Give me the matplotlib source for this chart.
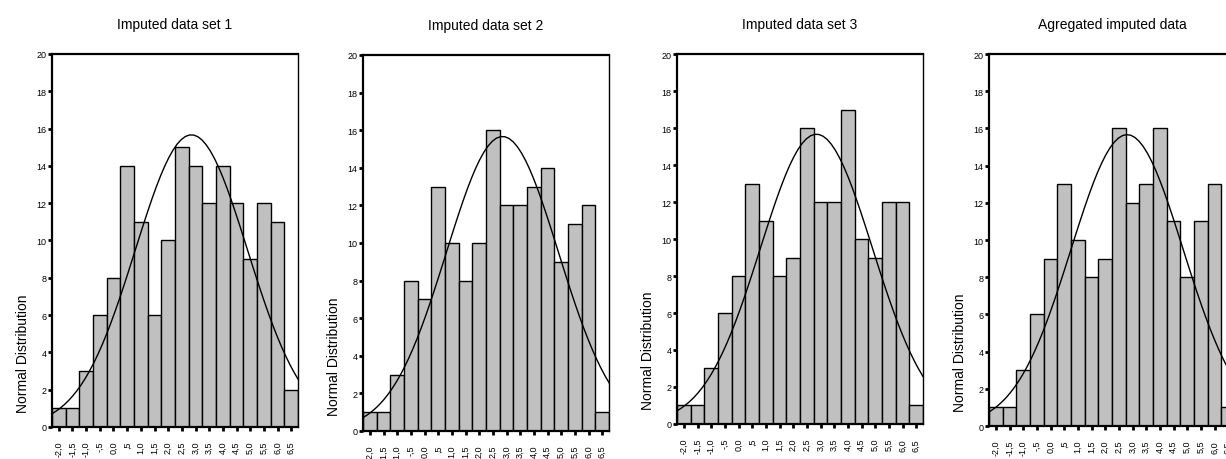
import numpy as np
import matplotlib
matplotlib.use("Agg")
import matplotlib.pyplot as plt

plt.rcParams["font.family"] = ["Liberation Sans Narrow", "Liberation Sans", "DejaVu Sans"]

# bin centres and SPSS-style labels
bin_centers = [-2.0, -1.5, -1.0, -0.5, 0.0, 0.5, 1.0, 1.5, 2.0, 2.5,
               3.0, 3.5, 4.0, 4.5, 5.0, 5.5, 6.0, 6.5]
bin_labels = ["-2,0", "-1,5", "-1,0", "-,5", "0,0", ",5", "1,0", "1,5", "2,0", "2,5",
              "3,0", "3,5", "4,0", "4,5", "5,0", "5,5", "6,0", "6,5"]

titles = ["Imputed data set 1", "Imputed data set 2",
          "Imputed data set 3", "Agregated imputed data"]

counts_set1 = [1, 1, 3, 6, 8, 14, 11, 6, 10, 15, 14, 12, 14, 12, 9, 12, 11, 2]
counts_set2 = [1, 1, 3, 8, 7, 13, 10, 8, 10, 16, 12, 12, 13, 14, 9, 11, 12, 1]
counts_set3 = [1, 1, 3, 6, 8, 13, 11, 8, 9, 16, 12, 12, 17, 10, 9, 12, 12, 1]
counts_agg = [1, 1, 3, 6, 9, 13, 10, 8, 9, 16, 12, 13, 16, 11, 8, 11, 13, 1]

# fitted normal curve parameters
fit_mean = [2.85, 2.85, 2.85, 2.8]
fit_sd = [2.05, 2.05, 2.05, 2.05]

bin_width = 0.5

# axes rectangles in figure fractions [left, bottom, width, height]
positions = [
    [0.0424, 0.0696, 0.2007, 0.8109],
    [0.2961, 0.0609, 0.2007, 0.8174],
    [0.5522, 0.0761, 0.2007, 0.8043],
    [0.8067, 0.0717, 0.2007, 0.8087],
]

all_counts = [counts_set1, counts_set2, counts_set3, counts_agg]

fig = plt.figure(figsize=(12.26, 4.6), dpi=100)

for i, counts in enumerate(all_counts):
    ax = fig.add_axes(positions[i])
    ax.bar(bin_centers, counts, width=bin_width, color="#c0c0c0",
           edgecolor="black", linewidth=1.0)

    n = sum(counts)
    lo = bin_centers[0] - bin_width / 2
    hi = bin_centers[-1] + bin_width / 2
    xs = np.linspace(lo, hi, 60)
    ys = n * bin_width / (fit_sd[i] * np.sqrt(2 * np.pi)) * \
        np.exp(-0.5 * ((xs - fit_mean[i]) / fit_sd[i]) ** 2)
    ax.plot(xs, ys, color="black", linewidth=1.0)

    ax.set_xlim(lo, hi)
    ax.set_ylim(0, 20)
    ax.set_yticks(range(0, 21, 2))
    ax.set_xticks(bin_centers)
    ax.set_xticklabels(bin_labels, rotation=90, fontsize=6.5)
    ax.tick_params(axis="y", labelsize=6.5, length=3, width=2, pad=1)
    ax.tick_params(axis="x", length=3, width=2, pad=7)

    for side in ["top", "left", "bottom"]:
        ax.spines[side].set_linewidth(1.6)
    ax.spines["right"].set_linewidth(1.0)

    ax.set_title(titles[i], fontsize=10, pad=19)
    ax.set_ylabel("Normal Distribution", fontsize=10)
    ax.yaxis.set_label_coords(-0.09, 0.2)

fig.savefig("out.png", dpi=100)
